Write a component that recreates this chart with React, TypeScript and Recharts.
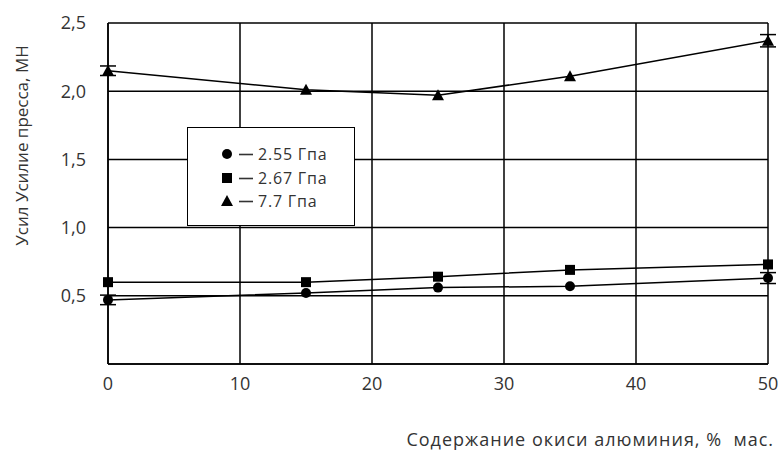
import React from 'react';
import { LineChart, Line, XAxis, YAxis, CartesianGrid, ErrorBar } from 'recharts';

const xValues = [0, 15, 25, 35, 50];
const s255 = [0.47, 0.52, 0.56, 0.57, 0.63];
const s267 = [0.6, 0.6, 0.64, 0.69, 0.73];
const s77 = [2.15, 2.01, 1.97, 2.11, 2.37];
const err255 = [0.035, null, null, null, 0.04];
const err77 = [0.035, null, null, null, 0.045];
const legendLabels = ['2.55 Гпа', '2.67 Гпа', '7.7 Гпа'];
const xTicks = [0, 10, 20, 30, 40, 50];
const yTicks = [0.5, 1.0, 1.5, 2.0, 2.5];

const data = xValues.map((x, i) => ({
  x,
  a: s255[i],
  b: s267[i],
  c: s77[i],
  ea: err255[i],
  ec: err77[i],
}));

const FONT = '"Open Sans", "DejaVu Sans", sans-serif';
const TXT = '#333';

const CircleDot = (p: any) => <circle cx={p.cx} cy={p.cy} r={5} fill="#000" />;
const SquareDot = (p: any) => <rect x={p.cx - 5} y={p.cy - 5} width={10} height={10} fill="#000" />;
const TriDot = (p: any) => (
  <polygon points={`${p.cx},${p.cy - 6} ${p.cx - 6},${p.cy + 5} ${p.cx + 6},${p.cy + 5}`} fill="#000" />
);

const LegendBox = () => {
  const syms = [
    <circle cx={5} cy={0} r={5} fill="#000" />,
    <rect x={0} y={-5} width={10} height={10} fill="#000" />,
    <polygon points="5,-6 -1,5 11,5" fill="#000" />,
  ];
  const rowY = [153, 177, 200];
  return (
    <div style={{ position: 'absolute', left: 187, top: 127, width: 168, height: 99, border: '1.5px solid #000', background: '#fff', boxSizing: 'border-box' }}>
      {legendLabels.map((l, i) => (
        <div key={l} style={{ position: 'absolute', left: 34, top: rowY[i] - 127 - 11, height: 22, display: 'flex', alignItems: 'center', fontFamily: FONT, fontSize: 16, letterSpacing: 0.8, color: TXT, whiteSpace: 'nowrap' }}>
          <svg width={34} height={14} viewBox="0 -7 34 14" style={{ overflow: 'visible' }}>
            {syms[i]}
            <line x1={17} y1={0.5} x2={31} y2={0.5} stroke={TXT} strokeWidth={1.6} />
          </svg>
          <span style={{ marginLeft: 2 }}>{l}</span>
        </div>
      ))}
    </div>
  );
};

export default function App() {
  return (
    <div style={{ position: 'absolute', left: 0, top: 0, width: 779, height: 452, background: '#fff' }}>
      <LineChart width={779} height={452} data={data} margin={{ top: 23, right: 11, left: 48, bottom: 58 }}>
        <CartesianGrid stroke="#000" strokeWidth={1.5} horizontal vertical />
        <XAxis
          dataKey="x"
          type="number"
          domain={[0, 50]}
          ticks={xTicks}
          tickLine={false}
          tickSize={0}
          tickMargin={13}
          axisLine={{ stroke: '#000', strokeWidth: 1.5 }}
          tick={{ fill: TXT, fontSize: 18, fontFamily: FONT }}
          height={30}
          label={{ value: 'Содержание окиси алюминия, %\u00a0\u00a0мас.', position: 'insideBottomRight', offset: 0, dy: 52, dx: 6, fill: TXT, fontSize: 18, letterSpacing: 1, fontFamily: FONT }}
        />
        <YAxis
          type="number"
          domain={[0, 2.5]}
          ticks={yTicks}
          tickLine={false}
          tickSize={0}
          tickMargin={22}
          width={60}
          axisLine={{ stroke: '#000', strokeWidth: 1.5 }}
          tick={{ fill: TXT, fontSize: 18, fontFamily: FONT }}
          tickFormatter={(v: number) => v.toFixed(1).replace('.', ',')}
          label={{ value: 'Усил Усилие пресса, МН', angle: -90, position: 'insideLeft', dx: -31, dy: -48, fill: TXT, fontSize: 17, fontFamily: FONT, style: { textAnchor: 'middle' } }}
        />
        <Line dataKey="a" type="linear" stroke="#000" strokeWidth={1.5} dot={<CircleDot />} isAnimationActive={false}>
          <ErrorBar dataKey="ea" width={8} stroke="#000" strokeWidth={1.5} direction="y" />
        </Line>
        <Line dataKey="b" type="linear" stroke="#000" strokeWidth={1.5} dot={<SquareDot />} isAnimationActive={false} />
        <Line dataKey="c" type="linear" stroke="#000" strokeWidth={1.5} dot={<TriDot />} isAnimationActive={false}>
          <ErrorBar dataKey="ec" width={8} stroke="#000" strokeWidth={1.5} direction="y" />
        </Line>
      </LineChart>
      <LegendBox />
    </div>
  );
}
